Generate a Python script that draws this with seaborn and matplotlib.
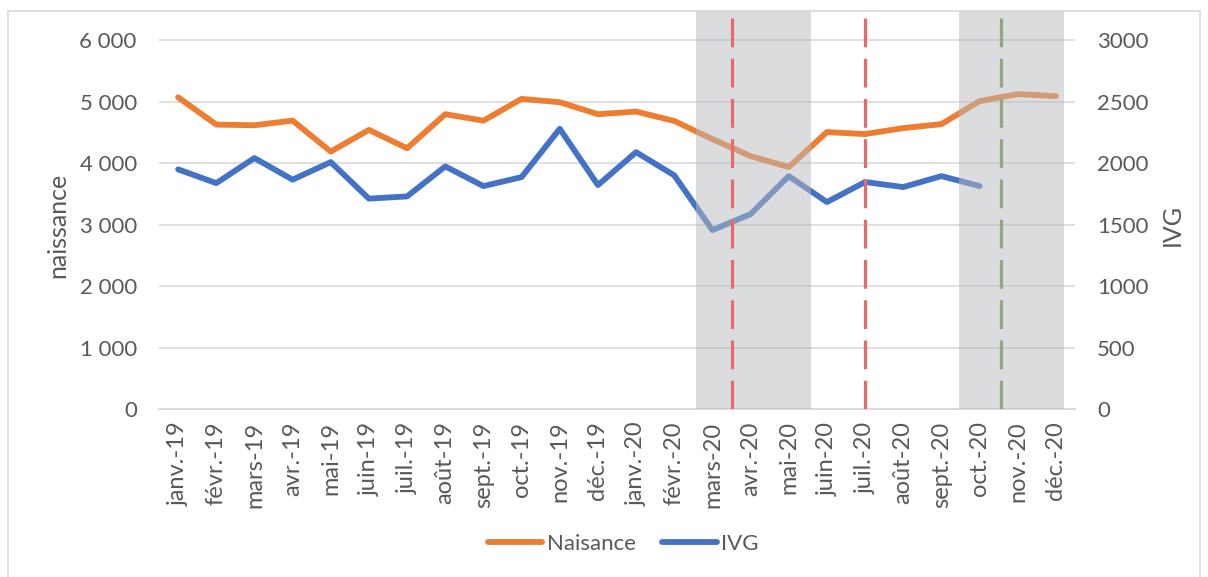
import numpy as np
import pandas as pd
import matplotlib
matplotlib.use("Agg")
import matplotlib.pyplot as plt
from matplotlib.patches import Rectangle
from matplotlib.lines import Line2D
import seaborn as sns

months = ["janv.-19", "févr.-19", "mars-19", "avr.-19", "mai-19", "juin-19",
          "juil.-19", "août-19", "sept.-19", "oct.-19", "nov.-19", "déc.-19",
          "janv.-20", "févr.-20", "mars-20", "avr.-20", "mai-20", "juin-20",
          "juil.-20", "août-20", "sept.-20", "oct.-20", "nov.-20", "déc.-20"]
naissance = [5070, 4626, 4615, 4691, 4187, 4540, 4241, 4795, 4690, 5044, 4990, 4795,
             4838, 4685, 4390, 4114, 3935, 4504, 4472, 4569, 4634, 5008, 5122, 5089]
ivg = [1949, 1837, 2041, 1865, 2008, 1711, 1729, 1973, 1813, 1886, 2279, 1821,
       2089, 1900, 1455, 1585, 1894, 1683, 1846, 1805, 1894, 1813, np.nan, np.nan]
left_ticks = [0, 1000, 2000, 3000, 4000, 5000, 6000]
right_ticks = [0, 500, 1000, 1500, 2000, 2500, 3000]
shaded = [(13.58, 16.57), (20.46, 23.2)]
red_lines = [14.5, 18.0]
green_lines = [21.55]

sns.set_theme(style="white")
plt.rcParams['font.family'] = ['Lato', 'DejaVu Sans']
txt = "#595959"
grid_c = "#D9D9D9"
orange = "#ED7D31"
blue = "#4472C4"

df = pd.DataFrame({"x": np.arange(len(months)), "naissance": naissance, "ivg": ivg})

fig = plt.figure(figsize=(12.08, 5.77), dpi=100)
ax = fig.add_axes([159/1208, 1 - 409/577, (1075-159)/1208, (409-10)/577])
ax2 = ax.twinx()

sns.lineplot(data=df, x="x", y="naissance", ax=ax, color=orange, lw=4.2,
             solid_capstyle="round", solid_joinstyle="round", zorder=3)
sns.lineplot(data=df.dropna(), x="x", y="ivg", ax=ax2, color=blue, lw=4.2,
             solid_capstyle="round", solid_joinstyle="round", zorder=3)

ax.set_xlim(-0.5, 23.5)
ax.set_ylim(0, 6490)
ax2.set_ylim(0, 3245)
ax.set_yticks(left_ticks)
ax.set_yticklabels([f"{v:,}".replace(",", " ") for v in left_ticks])
ax2.set_yticks(right_ticks)
ax2.set_yticklabels([str(v) for v in right_ticks])

ax.set_xticks(np.arange(len(months)))
ax.set_xticklabels(months, rotation=90, fontsize=17, color=txt)
ax.set_xticks(np.arange(-0.5, 24, 1), minor=True)
ax.tick_params(axis="x", which="major", length=0, pad=9)
ax.tick_params(axis="x", which="minor", length=6, color=grid_c, width=1)
ax.tick_params(axis="y", length=0, labelsize=16, labelcolor=txt, pad=16)
ax2.tick_params(axis="y", length=0, labelsize=16, labelcolor=txt, pad=16)

ax.yaxis.grid(True, color=grid_c, lw=1.2)
ax.xaxis.grid(False)
ax2.grid(False)
for a in (ax, ax2):
    for s in ["top", "left", "right"]:
        a.spines[s].set_visible(False)
    a.spines["bottom"].set_color(grid_c)
    a.spines["bottom"].set_linewidth(1.2)

ax.set_xlabel("")
ax.set_ylabel("naissance", fontsize=18, color=txt)
ax2.set_ylabel("IVG", fontsize=18, color=txt)
ax.yaxis.set_label_coords((69-159)/916, 0.46)
ax2.yaxis.set_label_coords((1161-159)/916, 0.46)

for x0, x1 in shaded:
    ax2.axvspan(x0, x1, color="#B9BABC", alpha=0.5, lw=0, zorder=5)
for xv in red_lines:
    ax2.axvline(xv, color="#E8696B", lw=2.3, linestyle=(0, (9, 3.6)), zorder=6)
for xv in green_lines:
    ax2.axvline(xv, color="#8FAA78", lw=2.3, linestyle=(0, (9, 3.6)), zorder=6)

handles = [Line2D([0], [0], color=orange, lw=4.2, solid_capstyle="round"),
           Line2D([0], [0], color=blue, lw=4.2, solid_capstyle="round")]
fig.legend(handles, ["Naisance", "IVG"], loc="center", bbox_to_anchor=(0.516, 0.058),
           ncol=2, frameon=False, fontsize=16, handlelength=2.45, columnspacing=1.2,
           handletextpad=0.2, labelcolor=txt)

fig.patches.append(Rectangle((8/1208, -0.01), (1200-8)/1208, 1 - 11/577 + 0.01,
                             transform=fig.transFigure, fill=False,
                             edgecolor=grid_c, lw=1.2))

fig.savefig("out.png", dpi=100)
